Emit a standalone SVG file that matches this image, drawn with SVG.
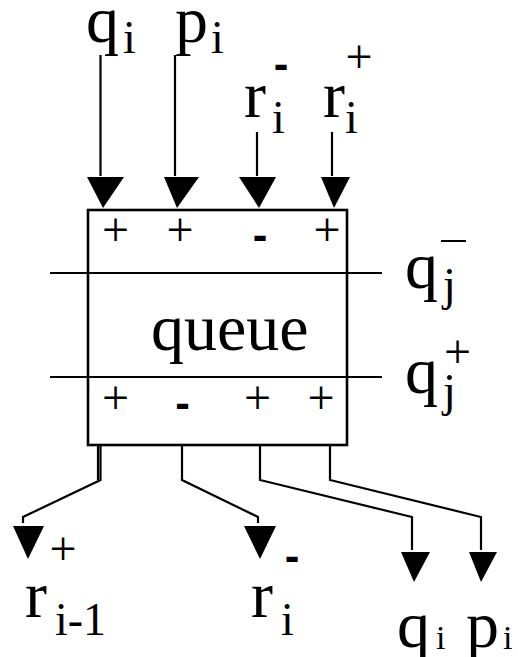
<svg xmlns="http://www.w3.org/2000/svg" width="518" height="657" viewBox="0 0 518 657">
  <style>
    .ln { fill: none; stroke: #000; stroke-width: 2.2; stroke-linejoin: miter; }
    .box { fill: #fff; stroke: #000; stroke-width: 2.6; }
    .ah { fill: #000; stroke: none; }
    .big { font-family: "Liberation Serif", "Times New Roman", serif; font-size: 66px; fill: #000; }
    .sub { font-family: "Liberation Serif", "Times New Roman", serif; font-size: 46px; fill: #000; }
    .sml { font-family: "Liberation Serif", "Times New Roman", serif; font-size: 34px; fill: #000; }
    .sgn { font-family: "Liberation Serif", "Times New Roman", serif; font-size: 48px; fill: #000; text-anchor: middle; }
    .dash { font-family: "Liberation Sans", Arial, sans-serif; font-weight: bold; font-size: 44px; fill: #000; text-anchor: middle; }
  </style>

  <!-- queue block with its two crossing bus lines -->
  <g id="queue">
    <rect class="box" x="88" y="210" width="259" height="235"/>
    <line class="ln" x1="50" y1="273" x2="382" y2="273"/>
    <line class="ln" x1="50" y1="377" x2="382" y2="377"/>
    <text class="big" x="151" y="350">queue</text>
    <!-- input polarities -->
    <text class="sgn" x="115.5" y="246">+</text>
    <text class="sgn" x="180" y="246">+</text>
    <text class="dash" x="260" y="250">-</text>
    <text class="sgn" x="327" y="246">+</text>
    <!-- output polarities -->
    <text class="sgn" x="115.5" y="414">+</text>
    <text class="dash" x="182.5" y="418">-</text>
    <text class="sgn" x="257.5" y="414">+</text>
    <text class="sgn" x="321" y="414">+</text>
  </g>

  <!-- inputs -->
  <g id="in-q">
    <text class="big" x="86" y="42">q</text>
    <text class="sub" x="123" y="53">i</text>
  </g>
  <g id="in-p">
    <text class="big" x="175" y="42">p</text>
    <text class="sub" x="211" y="53">i</text>
  </g>
  <g id="in-r-minus">
    <text class="big" x="244" y="117">r</text>
    <text class="sub" x="272" y="133">i</text>
    <text class="dash" x="281" y="79">-</text>
  </g>
  <g id="in-r-plus">
    <text class="big" x="323" y="117">r</text>
    <text class="sub" x="345" y="133">i</text>
    <text class="sgn" x="359" y="73">+</text>
  </g>

  <!-- right-hand bus labels -->
  <g id="bus-q-minus">
    <text class="big" x="405" y="288">q</text>
    <text class="sub" x="443" y="300">j</text>
    <line x1="441" y1="241" x2="466" y2="241" stroke="#000" stroke-width="2"/>
  </g>
  <g id="bus-q-plus">
    <text class="big" x="405" y="393">q</text>
    <text class="sub" x="443" y="406">j</text>
    <text class="sgn" x="457.5" y="368">+</text>
  </g>

  <!-- outputs -->
  <g id="out-r-prev">
    <text class="sgn" x="63" y="565">+</text>
    <text class="big" x="25" y="617">r</text>
    <text class="sub" x="55" y="635">i-1</text>
  </g>
  <g id="out-r">
    <text class="dash" x="292" y="571">-</text>
    <text class="big" x="251" y="617">r</text>
    <text class="sub" x="281" y="635">i</text>
  </g>
  <g id="out-q">
    <text class="big" x="397" y="647">q</text>
    <text class="sml" x="436" y="649">i</text>
  </g>
  <g id="out-p">
    <text class="big" x="466" y="647">p</text>
    <text class="sml" x="503" y="649">i</text>
  </g>

  <!-- connectors -->
  <g id="connectors">
    <line class="ln" x1="100.5" y1="55" x2="100.5" y2="176"/>
    <line class="ln" x1="175" y1="55" x2="175" y2="176"/>
    <line class="ln" x1="257" y1="132" x2="257" y2="176"/>
    <line class="ln" x1="332" y1="132" x2="332" y2="176"/>
    <polygon class="ah" points="87,177 124,177 103,208"/>
    <polygon class="ah" points="164,177 199,177 177,208"/>
    <polygon class="ah" points="239,177 276,177 259,208"/>
    <polygon class="ah" points="321,177 350,177 334,208"/>

    <path class="ln" d="M98,445 V480"/>
    <path class="ln" d="M100.5,445 V480 L23,517 V523"/>
    <path class="ln" d="M182,445 V480 L258,517 V523"/>
    <path class="ln" d="M260,445 V480 L412,517 V550"/>
    <path class="ln" d="M330,445 V480 L481,517 V550"/>
    <polygon class="ah" points="13,526 44,526 28,559"/>
    <polygon class="ah" points="244,526 276,526 260,559"/>
    <polygon class="ah" points="401,552 430,552 414,582"/>
    <polygon class="ah" points="469,552 497,552 481,582"/>
  </g>
</svg>
